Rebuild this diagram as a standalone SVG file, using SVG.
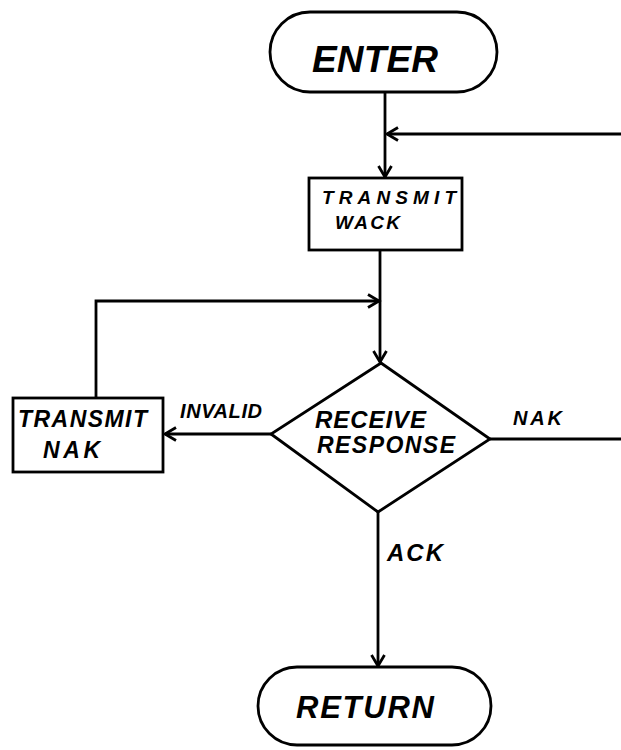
<svg xmlns="http://www.w3.org/2000/svg" width="621" height="750" viewBox="0 0 621 750">
<style>
.shape{fill:#fff;stroke:#000;stroke-width:2.8}
.line{fill:none;stroke:#000;stroke-width:2.8}
text{font-family:"Liberation Sans",Arial,sans-serif;font-style:italic;font-weight:700;fill:#000;text-anchor:start}
</style>
<defs>
<marker id="arr" markerUnits="userSpaceOnUse" markerWidth="16" markerHeight="16" viewBox="-13 -8 16 16" refX="0" refY="0" orient="auto">
<path d="M-11,-6.5 L0,0 L-11,6.5" fill="none" stroke="#000" stroke-width="2.8"/>
</marker>
</defs>
<rect width="621" height="750" fill="#fff"/>
<g id="connectors">
<line class="line" x1="385" y1="92" x2="385" y2="177" marker-end="url(#arr)"/>
<line class="line" x1="621" y1="134" x2="387" y2="134" marker-end="url(#arr)"/>
<line class="line" x1="380" y1="250" x2="380" y2="362" marker-end="url(#arr)"/>
<polyline class="line" points="96,398 96,301 379,301" marker-end="url(#arr)"/>
<line class="line" x1="271" y1="434" x2="165" y2="434" marker-end="url(#arr)"/>
<line class="line" x1="490" y1="439" x2="621" y2="439"/>
<line class="line" x1="378" y1="512" x2="378" y2="666" marker-end="url(#arr)"/>
<text x="180" y="418" font-size="20" textLength="82" lengthAdjust="spacing">INVALID</text>
<text x="513" y="425" font-size="20" textLength="49" lengthAdjust="spacing">NAK</text>
<text x="387" y="561" font-size="24" textLength="56" lengthAdjust="spacing">ACK</text>
</g>
<g id="enter">
<rect class="shape" x="270" y="12" width="227" height="80" rx="40"/>
<text x="312" y="72" font-size="37" textLength="126" lengthAdjust="spacing">ENTER</text>
</g>
<g id="transmit-wack">
<rect class="shape" x="309" y="178" width="153" height="72"/>
<text x="322" y="204" font-size="19" textLength="134" lengthAdjust="spacing">TRANSMIT</text>
<text x="335" y="229" font-size="19" textLength="65" lengthAdjust="spacing">WACK</text>
</g>
<g id="receive-response">
<polygon class="shape" points="381,363 490,439 378,512 271,434"/>
<text x="315" y="428" font-size="24" textLength="111" lengthAdjust="spacing">RECEIVE</text>
<text x="317" y="453" font-size="23" textLength="138" lengthAdjust="spacing">RESPONSE</text>
</g>
<g id="transmit-nak">
<rect class="shape" x="13" y="398" width="150" height="74"/>
<text x="18" y="427" font-size="23" textLength="129" lengthAdjust="spacing">TRANSMIT</text>
<text x="43" y="458" font-size="23" textLength="57" lengthAdjust="spacing">NAK</text>
</g>
<g id="return">
<rect class="shape" x="258" y="667" width="233" height="78" rx="39"/>
<text x="296" y="718" font-size="31" textLength="138" lengthAdjust="spacing">RETURN</text>
</g>
</svg>
